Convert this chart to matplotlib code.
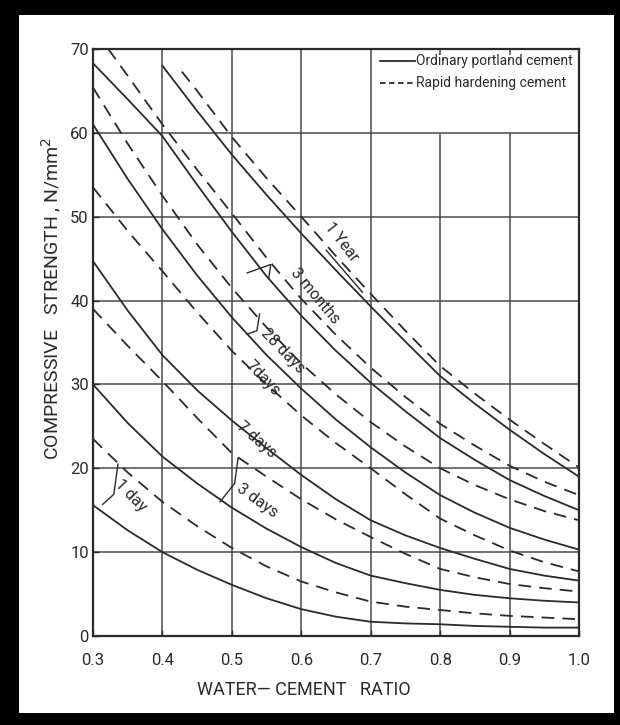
import matplotlib
matplotlib.use("Agg")
import matplotlib.pyplot as plt
from matplotlib.patches import Rectangle

plt.rcParams['font.family'] = ['Roboto', 'DejaVu Sans']

# water-cement ratio grid used for reading the curves
X_FULL = [0.30, 0.35, 0.40, 0.45, 0.50, 0.55, 0.60, 0.65,
          0.70, 0.75, 0.80, 0.85, 0.90, 0.95, 1.00]

# ordinary portland cement (solid)
one_year_opc_x = [0.40, 0.45, 0.50, 0.55, 0.60, 0.65, 0.70, 0.75,
                  0.80, 0.85, 0.90, 0.95, 1.00]
one_year_opc = [68.0, 62.6, 57.4, 52.6, 48.0, 43.6, 39.3, 35.1,
                31.0, 27.7, 24.6, 21.7, 19.0]
three_month_opc = [68.3, 64.0, 59.6, 53.8, 48.2, 42.9, 38.2, 34.0,
                   30.2, 26.8, 23.6, 21.0, 18.6, 16.7, 15.0]
day28_opc = [61.0, 54.5, 48.5, 43.0, 38.0, 33.5, 29.5, 25.8,
             22.5, 19.5, 16.8, 14.7, 12.9, 11.5, 10.3]
day7_opc = [44.7, 38.8, 33.5, 29.3, 25.7, 22.4, 19.2, 16.3,
            13.8, 12.0, 10.5, 9.2, 8.0, 7.2, 6.6]
day3_opc = [30.0, 25.4, 21.4, 18.2, 15.3, 12.8, 10.6, 8.7,
            7.2, 6.3, 5.5, 4.9, 4.5, 4.2, 4.0]
day1_opc = [15.6, 12.6, 10.0, 7.9, 6.1, 4.5, 3.2, 2.3,
            1.7, 1.5, 1.4, 1.2, 1.1, 1.0, 1.0]

# rapid hardening cement (dashed)
one_year_rhc_x = [0.428, 0.45, 0.50, 0.55, 0.60, 0.65, 0.70, 0.75,
                  0.80, 0.85, 0.90, 0.95, 1.00]
one_year_rhc = [67.3, 65.0, 59.5, 54.6, 50.0, 45.3, 40.8, 36.4,
                32.2, 28.9, 25.8, 22.9, 20.1]
three_month_rhc_x = [0.322, 0.35, 0.40, 0.45, 0.50, 0.55, 0.60, 0.65,
                     0.70, 0.75, 0.80, 0.85, 0.90, 0.95, 1.00]
three_month_rhc = [70.0, 66.8, 61.0, 55.6, 50.4, 45.1, 40.2, 35.9,
                   32.0, 28.5, 25.3, 22.7, 20.3, 18.4, 16.8]
day28_rhc = [65.4, 58.7, 52.5, 46.7, 41.5, 36.8, 32.5, 28.8,
             25.5, 22.6, 20.0, 18.0, 16.3, 14.9, 13.8]
day7_rhc = [53.5, 48.3, 43.5, 38.6, 34.0, 30.0, 26.3, 23.0,
            20.0, 16.9, 14.0, 12.0, 10.2, 8.8, 7.7]
day3_rhc = [39.0, 34.6, 30.4, 26.0, 21.8, 19.0, 16.3, 13.9,
            11.8, 9.8, 8.0, 7.0, 6.2, 5.7, 5.3]
day1_rhc = [23.5, 19.5, 16.0, 13.1, 10.5, 8.3, 6.5, 5.2,
            4.1, 3.5, 3.1, 2.7, 2.4, 2.2, 2.0]

x_ticks = [0.3, 0.4, 0.5, 0.6, 0.7, 0.8, 0.9, 1.0]
x_tick_labels = ['0.3', '0.4', '0.5', '0.6', '0.7', '0.8', '0.9', '1.0']
y_ticks = [0, 10, 20, 30, 40, 50, 60, 70]

INK = '#2a2a2a'
GRID = '#4a4a4a'

fig = plt.figure(figsize=(6.2, 7.25), dpi=100)
fig.patch.set_facecolor('black')
fig.add_artist(Rectangle((19 / 620, 12 / 725), (614 - 19) / 620, (725 - 15 - 12) / 725,
                         transform=fig.transFigure, facecolor='white',
                         edgecolor='none', zorder=0))

ax = fig.add_axes([93 / 620, 1 - 636 / 725, (579 - 93) / 620, (636 - 49) / 725])
ax.set_xlim(0.3, 1.0)
ax.set_ylim(0, 70)
ax.set_facecolor('white')

# grid, with the legend cell left open
for xv in x_ticks[1:-1]:
    top = 60 if xv > 0.75 else 70
    ax.vlines(xv, 0, top, color=GRID, lw=1.1, zorder=1)
    if top == 60:
        ax.vlines(xv, 69.3, 70, color=GRID, lw=1.1, zorder=1)
for yv in y_ticks[1:-1]:
    ax.hlines(yv, 0.3, 1.0, color=GRID, lw=1.1, zorder=1)

for s in ax.spines.values():
    s.set_color(INK)
    s.set_linewidth(1.6)

solid = dict(color=INK, lw=1.3, zorder=3)
dashed = dict(color=INK, lw=1.3, zorder=3, linestyle=(0, (7, 4.5)))

ax.plot(one_year_opc_x, one_year_opc, **solid)
ax.plot(X_FULL, three_month_opc, **solid)
ax.plot(X_FULL, day28_opc, **solid)
ax.plot(X_FULL, day7_opc, **solid)
ax.plot(X_FULL, day3_opc, **solid)
ax.plot(X_FULL, day1_opc, **solid)

ax.plot(one_year_rhc_x, one_year_rhc, **dashed)
ax.plot(three_month_rhc_x, three_month_rhc, **dashed)
ax.plot(X_FULL, day28_rhc, **dashed)
ax.plot(X_FULL, day7_rhc, **dashed)
ax.plot(X_FULL, day3_rhc, **dashed)
ax.plot(X_FULL, day1_rhc, **dashed)

# legend drawn in the top right cell
ax.plot([0.713, 0.764], [68.6, 68.6], **solid)
ax.text(0.765, 68.6, 'Ordinary portland cement', fontsize=10, color=INK,
        va='center', ha='left')
ax.plot([0.713, 0.764], [66.0, 66.0], color=INK, lw=1.3, linestyle=(0, (3, 2)))
ax.text(0.765, 66.0, 'Rapid hardening cement', fontsize=10, color=INK,
        va='center', ha='left')

# curve labels
lab = dict(fontsize=11.5, color=INK, ha='center', va='center', zorder=4)
ax.text(0.658, 47.0, '1 Year', rotation=-52, **lab)
ax.text(0.620, 40.6, '3 months', rotation=-50, **lab)
ax.text(0.573, 34.0, '28 days', rotation=-46, **lab)
ax.text(0.545, 30.8, '7days', rotation=-46, **lab)
ax.text(0.535, 23.4, '7 days', rotation=-41, **lab)
ax.text(0.537, 16.2, '3 days', rotation=-36, **lab)
ax.text(0.355, 16.8, '1 day', rotation=-46, **lab)

# leader marks
lead = dict(color=INK, lw=1.0, zorder=4)
ax.plot([0.636, 0.688], [46.0, 41.0], **lead)
ax.plot([0.522, 0.556, 0.553], [43.3, 44.3, 42.6], **lead)
ax.plot([0.522, 0.536, 0.540], [36.0, 36.4, 38.4], **lead)
ax.plot([0.483, 0.504, 0.509], [16.0, 18.2, 21.2], **lead)
ax.plot([0.314, 0.330, 0.336], [15.7, 16.9, 20.5], **lead)

ax.set_xticks(x_ticks)
ax.set_xticklabels(x_tick_labels)
ax.set_yticks(y_ticks)
ax.tick_params(axis='both', direction='in', length=4, width=1.0, color=INK,
               labelsize=12, labelcolor=INK)
ax.tick_params(axis='x', pad=12)
ax.tick_params(axis='y', pad=3)

fig.text(52 / 620, 1 - 298 / 725, 'COMPRESSIVE   STRENGTH , N/mm$^2$', rotation=90,
         ha='center', va='center', fontsize=14, color=INK)
fig.text(304 / 620, 1 - 690 / 725, 'WATER\u2014 CEMENT   RATIO', ha='center',
         va='center', fontsize=13, color=INK)

fig.savefig('out.png', dpi=100, facecolor=fig.get_facecolor())
